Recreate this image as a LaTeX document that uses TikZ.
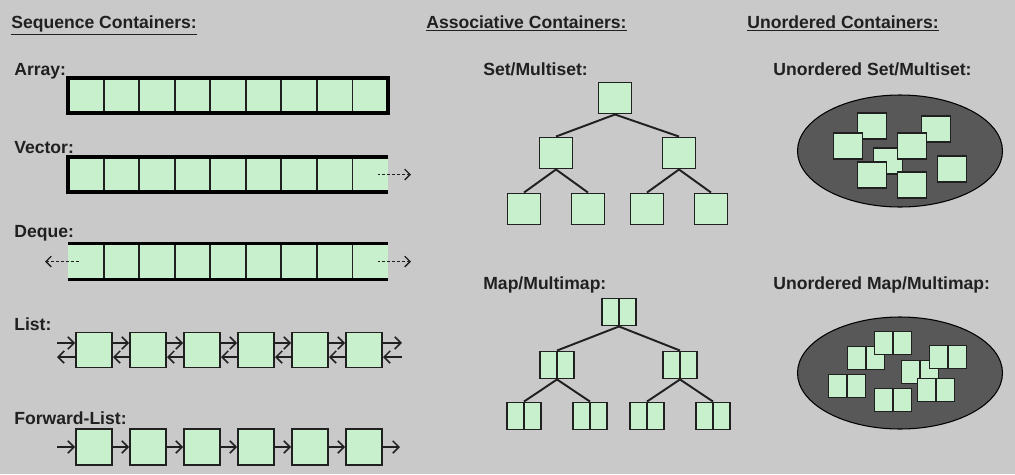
\documentclass[tikz,border=0pt]{standalone}
\usepackage{fontspec}
\setmainfont{Liberation Sans}
\usepackage{tikz}
\usetikzlibrary{positioning}
\usetikzlibrary{shapes.geometric}
\usetikzlibrary{arrows.meta}
\definecolor{cellgreen}{RGB}{200,240,205}
\definecolor{bggray}{RGB}{201,201,201}
\definecolor{ovalgray}{RGB}{88,88,88}
\definecolor{inkgray}{RGB}{32,32,32}
\newcommand{\pxu}{0.02cm}

\begin{document}
\begin{tikzpicture}[x=0.02cm, y=-0.02cm,
                    heading/.style={anchor=base west, inner sep=0pt, text=inkgray, font=\bfseries\fontsize{10}{12}\selectfont},
                    kindname/.style={anchor=base west, inner sep=0pt, text=inkgray, font=\bfseries\fontsize{10}{12}\selectfont},
                    cell/.style={rectangle, fill=cellgreen, inner sep=0pt, outer sep=0pt, minimum width=35.56*\pxu, minimum height=35*\pxu},
                    divider/.style={draw=inkgray, line width=1.1pt},
                    rim/.style={draw=black, line width=2pt},
                    squarednode/.style={rectangle, draw=inkgray, fill=cellgreen, line width=1.1pt, inner sep=0pt, minimum width=36*\pxu, minimum height=35*\pxu},
                    treenode/.style={squarednode, minimum width=33*\pxu, minimum height=31*\pxu},
                    pairnode/.style={squarednode, minimum width=34*\pxu, minimum height=27*\pxu,
                                     path picture={\draw[inkgray, line width=1.1pt] (path picture bounding box.north) -- (path picture bounding box.south);}},
                    loosenode/.style={squarednode, minimum width=29*\pxu, minimum height=26*\pxu},
                    loosepair/.style={pairnode, minimum width=37*\pxu, minimum height=23*\pxu},
                    bag/.style={ellipse, draw=black, fill=ovalgray, line width=0.6pt, minimum width=205*\pxu, minimum height=112*\pxu},
                    link/.style={-{Straight Barb[length=3.5pt,width=7pt]}, draw=inkgray, line width=0.9pt},
                    spill/.style={-{Straight Barb[length=3pt,width=6pt]}, draw=inkgray, line width=0.8pt, dash pattern=on 1.6pt off 1.2pt},
                    branch/.style={draw=inkgray, line width=1.1pt},
                ]
                %Background
                \fill[bggray] (0,0) rectangle (1015,474);

                %Headings
                \node[heading] (seqhead)   at (11,28)  {\underline{Sequence Containers:}};
                \node[heading] (assochead) at (426,28) {\underline{Associative Containers:}};
                \node[heading] (unordhead) at (747,28) {\underline{Unordered Containers:}};

                %Names
                \node[kindname] (arrayname)   at (14,75)   {Array:};
                \node[kindname] (vectorname)  at (14,153)  {Vector:};
                \node[kindname] (dequename)   at (14,237)  {Deque:};
                \node[kindname] (listname)    at (14,330)  {List:};
                \node[kindname] (fwdname)     at (14,424)  {Forward-List:};
                \node[kindname] (setname)     at (483,75)  {Set/Multiset:};
                \node[kindname] (mapname)     at (483,289) {Map/Multimap:};
                \node[kindname] (usetname)    at (773,75)  {Unordered Set/Multiset:};
                \node[kindname] (umapname)    at (773,289) {Unordered Map/Multimap:};

                %Array, vector, deque
                \foreach \i in {1,...,9} {
                    \node[cell] (a\i) at ({68+35.56*(\i-0.5)},95.5)  {};
                    \node[cell] (v\i) at ({68+35.56*(\i-0.5)},174.5) {};
                    \node[cell, minimum height=36*\pxu] (d\i) at ({68+35.56*(\i-0.5)},261.5) {};
                }
                \foreach \i in {1,...,8} {
                    \draw[divider] (a\i.north east) -- (a\i.south east);
                    \draw[divider] (v\i.north east) -- (v\i.south east);
                    \draw[divider] (d\i.north east) -- (d\i.south east);
                }
                \draw[rim] (a1.north west) rectangle (a9.south east);
                \draw[rim] (v9.north east) -- (v1.north west) -- (v1.south west) -- (v9.south east);
                \draw[rim] (d1.north west) -- (d9.north east);
                \draw[rim] (d1.south west) -- (d9.south east);

                \coordinate (vtip)  at (411,174.5);
                \coordinate (dtipr) at (411,261.5);
                \coordinate (dtipl) at (45,261.5);
                \draw[spill] ([xshift=-6pt]v9.east) -- (vtip);
                \draw[spill] ([xshift=-6pt]d9.east) -- (dtipr);
                \draw[spill] ([xshift=6pt]d1.west) -- (dtipl);

                %List
                \foreach \i in {1,...,6} {
                    \node[squarednode] (l\i) at ({94+54*(\i-1)},350) {};
                    \node[squarednode, minimum height=36*\pxu] (f\i) at ({94+54*(\i-1)},447) {};
                }
                \coordinate (lin)  at (57,350);
                \coordinate (lout) at (402,350);
                \coordinate (fin)  at (57,447);
                \coordinate (fout) at (400,447);
                \draw[link] ([yshift=4pt]lin) -- ([yshift=4pt]l1.west);
                \draw[link] ([yshift=-4pt]l1.west) -- ([yshift=-4pt]lin);
                \draw[link] ([yshift=4pt]l6.east) -- ([yshift=4pt]lout);
                \draw[link] ([yshift=-4pt]lout) -- ([yshift=-4pt]l6.east);
                \draw[link] (fin) -- (f1.west);
                \draw[link] (f6.east) -- (fout);
                \foreach \i/\j in {1/2,2/3,3/4,4/5,5/6} {
                    \draw[link] ([yshift=4pt]l\i.east) -- ([yshift=4pt]l\j.west);
                    \draw[link] ([yshift=-4pt]l\j.west) -- ([yshift=-4pt]l\i.east);
                    \draw[link] (f\i.east) -- (f\j.west);
                }

                %Set tree
                \node[treenode] (sroot) at (615,98)  {};
                \node[treenode] (sl)    at (556,153) {};
                \node[treenode] (sr)    at (679,153) {};
                \node[treenode] (sll)   at (524,209) {};
                \node[treenode] (slr)   at (588,209) {};
                \node[treenode] (srl)   at (647,209) {};
                \node[treenode] (srr)   at (711,209) {};
                \draw[branch] (sroot.south) -- (sl.north);
                \draw[branch] (sroot.south) -- (sr.north);
                \draw[branch] (sl.south) -- (sll.north);
                \draw[branch] (sl.south) -- (slr.north);
                \draw[branch] (sr.south) -- (srl.north);
                \draw[branch] (sr.south) -- (srr.north);

                %Map tree
                \node[pairnode] (mroot) at (619,312) {};
                \node[pairnode] (ml)    at (557,365) {};
                \node[pairnode] (mr)    at (680,365) {};
                \node[pairnode] (mll)   at (524,416) {};
                \node[pairnode] (mlr)   at (590,416) {};
                \node[pairnode] (mrl)   at (647,416) {};
                \node[pairnode] (mrr)   at (713,416) {};
                \draw[branch] (mroot.south) -- (ml.north);
                \draw[branch] (mroot.south) -- (mr.north);
                \draw[branch] (ml.south) -- (mll.north);
                \draw[branch] (ml.south) -- (mlr.north);
                \draw[branch] (mr.south) -- (mrl.north);
                \draw[branch] (mr.south) -- (mrr.north);

                %Unordered set
                \node[bag] (setbag) at (900,151) {};
                \node[loosenode] (u5) at (888,161) {};
                \node[loosenode] (u1) at (872,126) {};
                \node[loosenode] (u2) at (936,129) {};
                \node[loosenode] (u3) at (848,146) {};
                \node[loosenode] (u4) at (912,146) {};
                \node[loosenode] (u6) at (872,175) {};
                \node[loosenode] (u7) at (912,185) {};
                \node[loosenode] (u8) at (952,169) {};

                %Unordered map
                \node[bag] (mapbag) at (900,373) {};
                \node[loosepair] (p1) at (866,358) {};
                \node[loosepair] (p2) at (893,343) {};
                \node[loosepair] (p3) at (847,386) {};
                \node[loosepair] (p4) at (920,372) {};
                \node[loosepair] (p5) at (948,357) {};
                \node[loosepair] (p6) at (936,390) {};
                \node[loosepair] (p7) at (893,400) {};
\end{tikzpicture}
\end{document}
